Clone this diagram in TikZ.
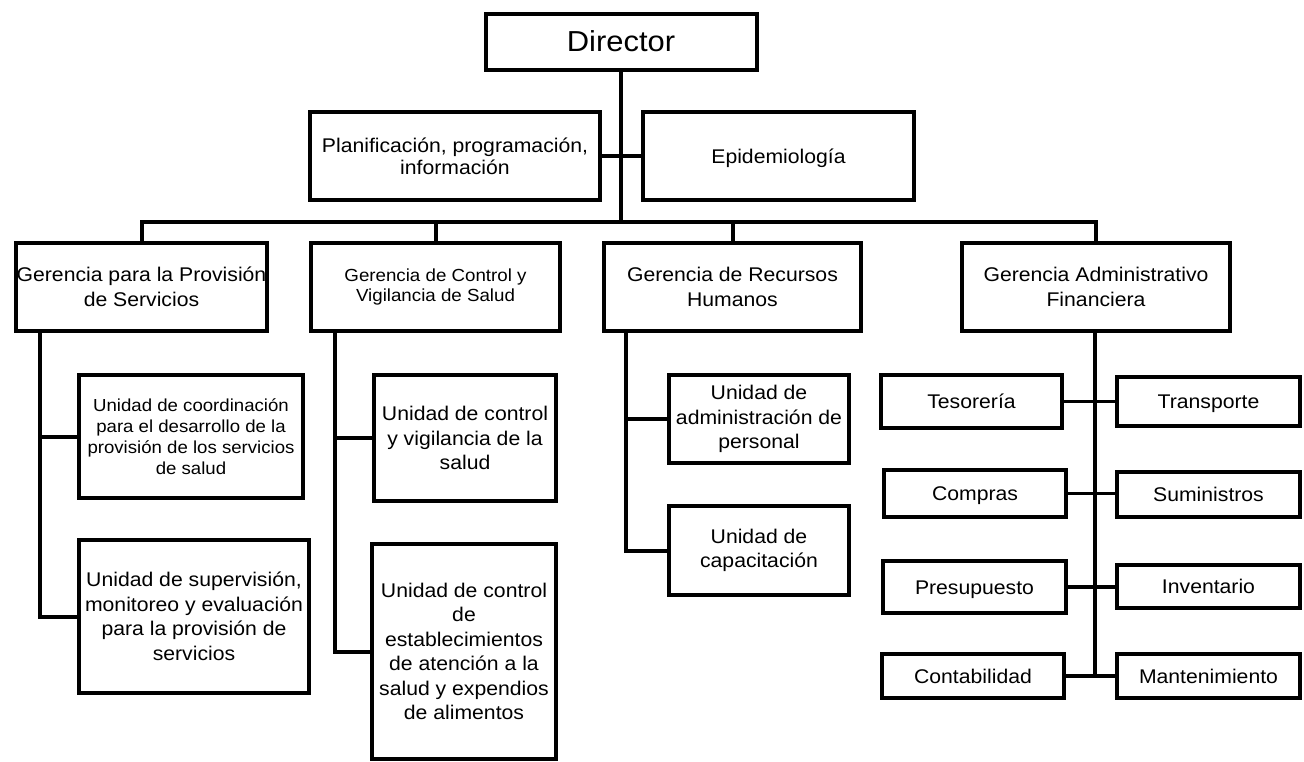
\documentclass[tikz,border=0pt]{standalone}
\usepackage{fontspec}
\setmainfont[FakeStretch=1.07]{Liberation Sans}
\begin{document}
\begin{tikzpicture}[x=1pt,y=-1pt,
  box/.style={draw, line width=4pt, inner sep=0pt, align=center, fill=white,
              font=\fontsize{19.8}{24.5}\selectfont},
  one/.style={text height=14.2pt, text depth=0pt},
  ln/.style={line width=4pt},
  br/.style={line width=3.2pt}]
\useasboundingbox (0,0) rectangle (1304,761);
\coordinate (bar) at (621,222);
\coordinate (x1) at (40,0);
\coordinate (x2) at (334.6,0);
\coordinate (x3) at (626,0);
\coordinate (x4) at (1095,0);

% boxes
\node[box, minimum width=271, minimum height=56, font=\fontsize{28.9}{34}\selectfont, text height=20.8pt, text depth=0pt] (dir) at (621,41.5) {Director};
\node[box, minimum width=289.5, minimum height=88, font=\fontsize{19.8}{21.7}\selectfont] (plan) at (455,156) {Planificación, programación,\\información};
\node[box, one, minimum width=271, minimum height=88] (epi) at (778.5,156) {Epidemiología};

\node[box, minimum width=251.5, minimum height=88] (g1) at (141.5,287) {Gerencia para la Provisión\\de Servicios};
\node[box, minimum width=249, minimum height=88, font=\fontsize{17.5}{20.7}\selectfont] (g2) at (435.5,287) {Gerencia de Control y\\Vigilancia de Salud};
\node[box, minimum width=257, minimum height=88] (g3) at (732.5,287) {Gerencia de Recursos\\Humanos};
\node[box, minimum width=268, minimum height=88] (g4) at (1096,287) {Gerencia Administrativo\\Financiera};

\node[box, minimum width=224, minimum height=123, font=\fontsize{17.4}{21}\selectfont] (u11) at (191,436.5) {Unidad de coordinación\\para el desarrollo de la\\provisión de los servicios\\de salud};
\node[box, minimum width=230, minimum height=153] (u12) at (194,616.5) {Unidad de supervisión,\\monitoreo y evaluación\\para la provisión de\\servicios};

\node[box, minimum width=182, minimum height=126] (u21) at (465,438) {Unidad de control\\y vigilancia de la\\salud};
\node[box, minimum width=184, minimum height=215] (u22) at (464,651.5) {Unidad de control\\de\\establecimientos\\de atención a la\\salud y expendios\\de alimentos};

\node[box, minimum width=180, minimum height=88] (u31) at (759,419) {Unidad de\\administración de\\personal};
\node[box, minimum width=180, minimum height=89] (u32) at (759,550.5) {Unidad de\\capacitación};

\node[box, one, minimum width=181, minimum height=53] (tes) at (971.5,401.5) {Tesorería};
\node[box, one, minimum width=183, minimum height=49] (tra) at (1208.5,401.5) {Transporte};
\node[box, one, minimum width=182, minimum height=47] (com) at (975,493.5) {Compras};
\node[box, one, minimum width=183, minimum height=45] (sum) at (1208.5,494.5) {Suministros};
\node[box, one, minimum width=183, minimum height=52] (pre) at (974.5,587) {Presupuesto};
\node[box, one, minimum width=183, minimum height=43] (inv) at (1208.5,586.5) {Inventario};
\node[box, one, minimum width=182, minimum height=44] (con) at (973,676) {Contabilidad};
\node[box, one, minimum width=183, minimum height=44] (man) at (1208.5,676) {Mantenimiento};

% top connectors
\draw[ln] (dir.south) -- (bar);
\draw[br] (plan.east) -- (epi.west);
\draw[ln] (g1.north) -- (g1.north |- bar) -- (g4.north |- bar) -- (g4.north);
\draw[ln] (g2.north) -- (g2.north |- bar);
\draw[ln] (g3.north) -- (g3.north |- bar);

% Gerencia 1
\draw[ln] (g1.south -| x1) |- (u12.west);
\draw[ln] (x1 |- u11.west) -- (u11.west);
% Gerencia 2
\draw[ln] (g2.south -| x2) |- (u22.west);
\draw[ln] (x2 |- u21.west) -- (u21.west);
% Gerencia 3
\draw[ln] (g3.south -| x3) |- (u32.west);
\draw[ln] (x3 |- u31.west) -- (u31.west);
% Gerencia 4
\draw[ln] (g4.south -| x4) -- (x4 |- con.east);
\draw[br] (tes.east) -- (tra.west |- tes.east);
\draw[br] (com.east) -- (sum.west |- com.east);
\draw[br] (pre.east) -- (inv.west |- pre.east);
\draw[br] (con.east) -- (man.west |- con.east);
\end{tikzpicture}
\end{document}
